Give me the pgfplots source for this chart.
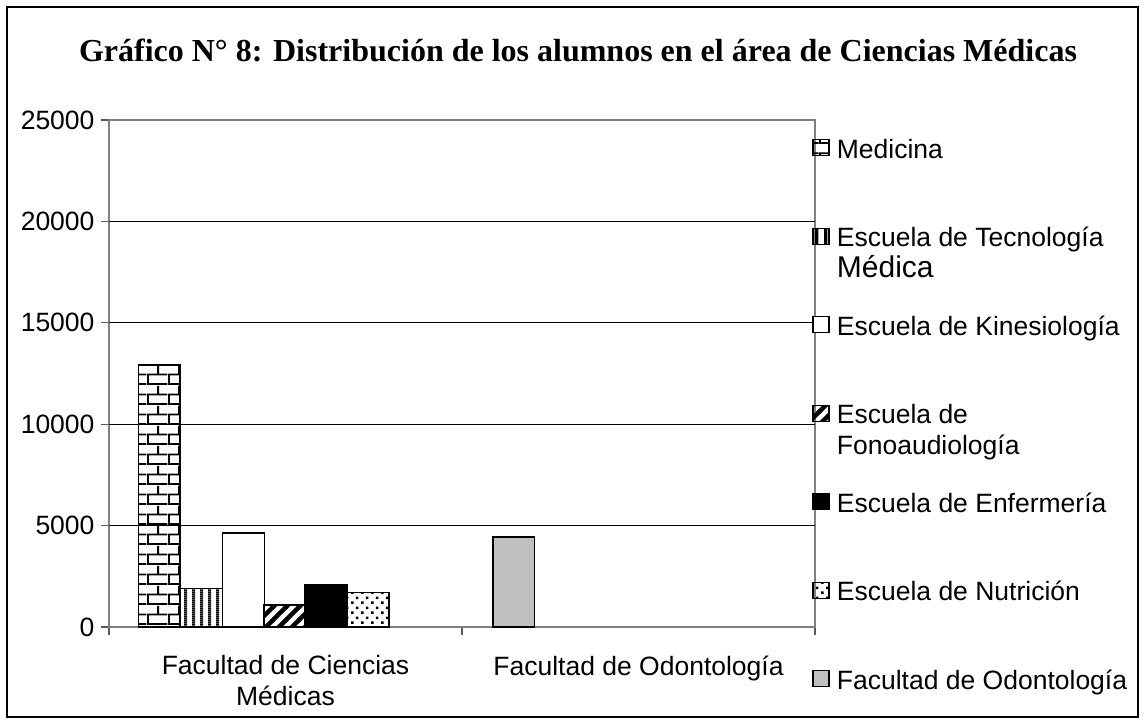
\documentclass[border=0pt]{standalone}
\usepackage{fontspec}
\setmainfont{Liberation Sans}
\newfontfamily\titlefont{Liberation Serif}
\usepackage{pgfplots}
\pgfplotsset{compat=1.18}
\usetikzlibrary{patterns}
\definecolor{axgray}{HTML}{808080}
\definecolor{bargray}{HTML}{C0C0C0}

\pgfdeclarepatternformonly{mybricks}{\pgfqpoint{0pt}{0pt}}{\pgfqpoint{21pt}{20pt}}{\pgfqpoint{21pt}{20pt}}{%
  \pgfsetlinewidth{2pt}%
  \pgfpathmoveto{\pgfqpoint{0pt}{1pt}}\pgfpathlineto{\pgfqpoint{21pt}{1pt}}%
  \pgfpathmoveto{\pgfqpoint{0pt}{11pt}}\pgfpathlineto{\pgfqpoint{21pt}{11pt}}%
  \pgfpathmoveto{\pgfqpoint{1pt}{1pt}}\pgfpathlineto{\pgfqpoint{1pt}{11pt}}%
  \pgfpathmoveto{\pgfqpoint{11.5pt}{11pt}}\pgfpathlineto{\pgfqpoint{11.5pt}{20pt}}%
  \pgfusepath{stroke}}
\pgfdeclarepatternformonly{myvlines}{\pgfqpoint{0pt}{0pt}}{\pgfqpoint{8.4pt}{2pt}}{\pgfqpoint{8.4pt}{2pt}}{%
  \pgfsetlinewidth{3.4pt}%
  \pgfpathmoveto{\pgfqpoint{1.7pt}{-0.5pt}}\pgfpathlineto{\pgfqpoint{1.7pt}{2.5pt}}%
  \pgfusepath{stroke}}
\pgfdeclarepatternformonly{mydiag}{\pgfqpoint{-1pt}{-1pt}}{\pgfqpoint{14pt}{14pt}}{\pgfqpoint{13pt}{13pt}}{%
  \pgfsetlinewidth{4.5pt}%
  \pgfpathmoveto{\pgfqpoint{-1pt}{-1pt}}\pgfpathlineto{\pgfqpoint{14pt}{14pt}}%
  \pgfpathmoveto{\pgfqpoint{-1pt}{12pt}}\pgfpathlineto{\pgfqpoint{1pt}{14pt}}%
  \pgfpathmoveto{\pgfqpoint{12pt}{-1pt}}\pgfpathlineto{\pgfqpoint{14pt}{1pt}}%
  \pgfusepath{stroke}}
\pgfdeclarepatternformonly{mydots}{\pgfqpoint{0pt}{0pt}}{\pgfqpoint{10pt}{10pt}}{\pgfqpoint{10pt}{10pt}}{%
  \pgfpathrectangle{\pgfqpoint{1.3pt}{1.3pt}}{\pgfqpoint{2.6pt}{2.6pt}}%
  \pgfpathrectangle{\pgfqpoint{6.3pt}{6.3pt}}{\pgfqpoint{2.6pt}{2.6pt}}%
  \pgfusepath{fill}}

\newcommand\LE[1]{\rule[-8pt]{0pt}{30.6pt}\smash{#1}}
\newcommand\LEE[2]{\rule[-8pt]{0pt}{30.6pt}\smash{\vtop{\baselineskip=31pt\hbox{#1}\hbox{#2}}}}

\begin{document}
\begin{tikzpicture}
\useasboundingbox (-109pt,-97pt) rectangle (1036pt,627pt);
\begin{axis}[
  at={(0,0)}, anchor=origin,
  scale only axis, width=706pt, height=507pt,
  xmin=0, xmax=2, ymin=0, ymax=25000,
  axis line style={axgray, line width=1.2pt},
  tick style={axgray!70!black, line width=1.1pt},
  tick align=outside, major tick length=8pt, tick pos=left,
  xtick={0,1,2}, xticklabels={},
  extra x ticks={0.5,1.5},
  extra x tick labels={{Facultad de Ciencias\\Médicas},{Facultad de Odontología}},
  extra x tick style={major tick length=0pt,
     tick label style={align=center, anchor=north, yshift=-25pt}},
  ytick={0,5000,10000,15000,20000,25000},
  yticklabels={0,5000,10000,15000,20000,25000},
  yticklabel style={xshift=-3pt},
  scaled y ticks=false,
  extra y ticks={5000,10000,15000,20000},
  extra y tick labels={},
  extra y tick style={grid=major, major tick length=0pt},
  grid style={black, line width=1pt},
  tick label style={font=\fontsize{26.5}{31}\selectfont},
  bar width=0.1185,
  legend cell align=left,
  legend style={at={(0.9963,0.969)}, anchor=north west, draw=none, fill=none,
     inner sep=0pt, outer sep=0pt, row sep=64.4pt, column sep=0pt,
     nodes={inner sep=0pt, outer sep=0pt},
     font=\fontsize{26.5}{31}\selectfont},
  legend image code/.code={\draw[#1, line width=1.2pt] (0pt,-8pt) rectangle (16pt,8pt); \path (23pt,0pt);},
]
\addplot[ybar, bar shift=0pt, draw=black, line width=1.8pt, pattern=mybricks, pattern color=black]
  coordinates {(0.143,12900)};
\addlegendentry{\LE{Medicina}}
\addplot[ybar, bar shift=0pt, draw=black, line width=1.8pt, pattern=myvlines, pattern color=black]
  coordinates {(0.262,1900)};
\addlegendentry{\LEE{Escuela de Tecnología}{\fontsize{30}{31}\selectfont Médica}}
\addplot[ybar, bar shift=0pt, draw=black, line width=1.8pt, fill=white]
  coordinates {(0.381,4650)};
\addlegendentry{\LE{Escuela de Kinesiología}}
\addplot[ybar, bar shift=0pt, draw=black, line width=1.8pt, pattern=mydiag, pattern color=black]
  coordinates {(0.499,1100)};
\addlegendentry{\LEE{Escuela de}{Fonoaudiología}}
\addplot[ybar, bar shift=0pt, draw=black, line width=1.8pt, fill=black]
  coordinates {(0.614,2080)};
\addlegendentry{\LE{Escuela de Enfermería}}
\addplot[ybar, bar shift=0pt, draw=black, line width=1.8pt, pattern=mydots, pattern color=black]
  coordinates {(0.735,1700)};
\addlegendentry{\LE{Escuela de Nutrición}}
\addplot[ybar, bar shift=0pt, draw=black, line width=1.8pt, fill=bargray]
  coordinates {(1.146,4450)};
\addlegendentry{\LE{Facultad de Odontología}}
\end{axis}
\draw[line width=1.8pt] (-102pt,-90pt) rectangle (1029pt,620pt);
\node[font=\titlefont\bfseries\fontsize{32}{38}\selectfont, anchor=base] at (469pt,565pt)
  {Gráfico N° 8: Distribución de los alumnos en el área de Ciencias Médicas};
\end{tikzpicture}
\end{document}
